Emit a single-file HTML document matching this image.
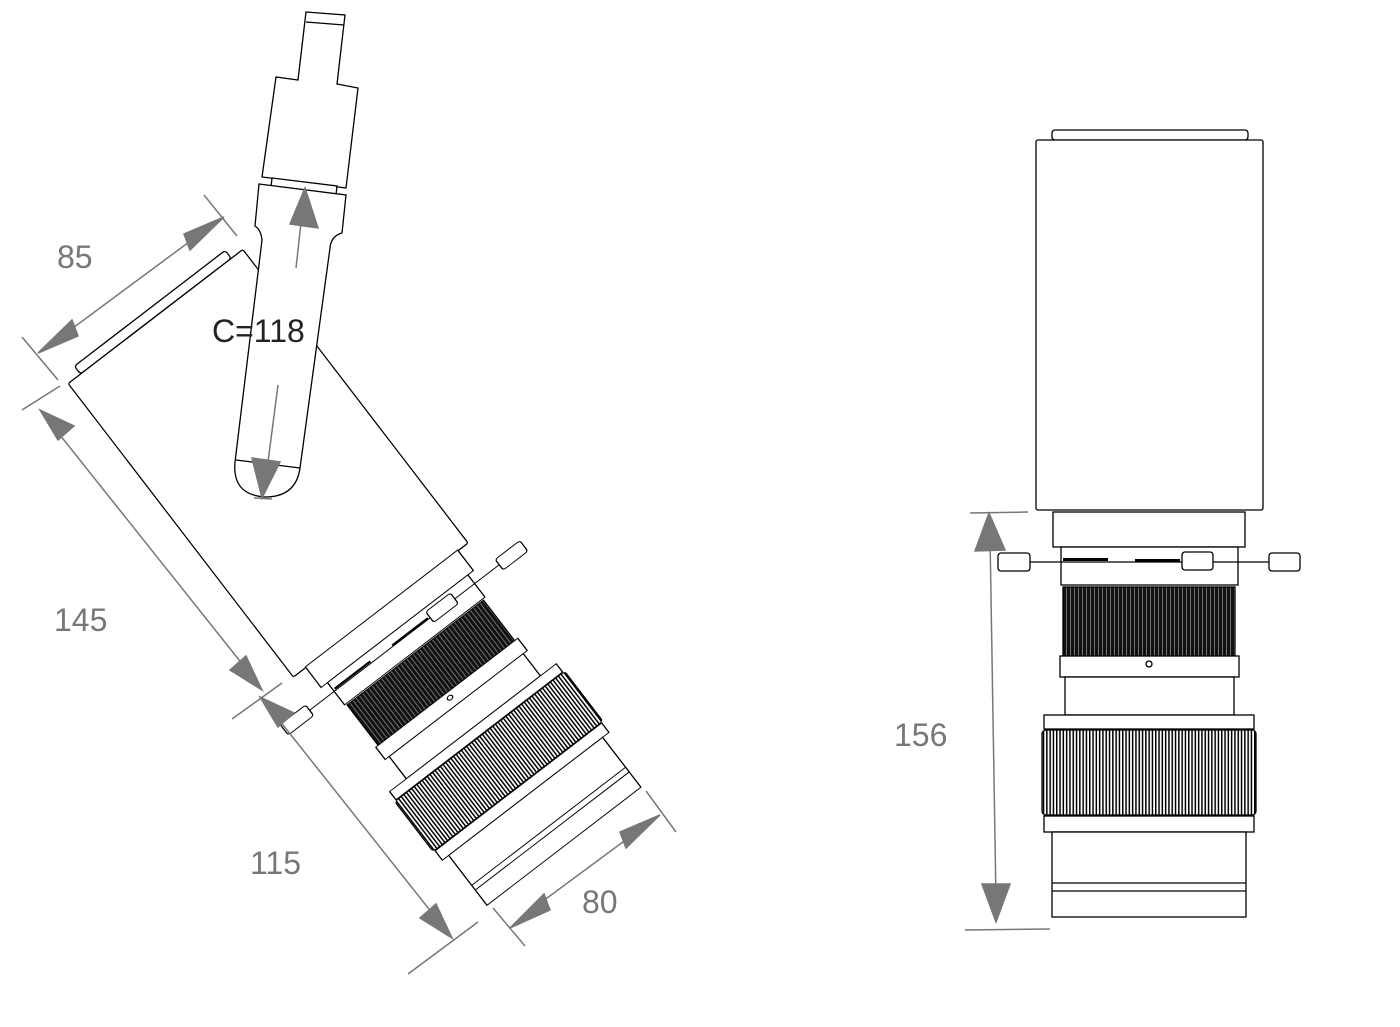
<!DOCTYPE html>
<html><head><meta charset="utf-8"><style>
html,body{margin:0;padding:0;background:#fff;}
svg{display:block;}
</style></head><body>
<svg width="1400" height="1027" viewBox="0 0 1400 1027" xmlns="http://www.w3.org/2000/svg">
<defs>
<pattern id="dk" width="4" height="10" patternUnits="userSpaceOnUse">
<rect width="4" height="10" fill="#111"/><rect x="2" width="0.8" height="10" fill="#888"/>
</pattern>
<pattern id="bk" width="6.6" height="10" patternUnits="userSpaceOnUse">
<rect width="6.6" height="10" fill="#fff"/><rect x="0" width="1.5" height="10" fill="#000"/><rect x="3.3" width="1.5" height="10" fill="#000"/>
</pattern>
<g id="body" fill="#fff" stroke="#000" stroke-width="1.3">
<rect x="1052" y="130" width="196" height="10" rx="3"/>
<rect x="1036" y="140" width="227" height="370" rx="2"/>
</g>
<g id="lower" stroke="#000" stroke-width="1.3">
<rect x="1053" y="512" width="192" height="35" fill="#fff"/>
<rect x="1061" y="547" width="177" height="38" fill="#fff"/>
<line x1="1030" y1="562" x2="1269" y2="562"/>
<rect x="1063" y="558" width="45" height="3" fill="#000" stroke="none"/>
<rect x="1135" y="559" width="45" height="3" fill="#000" stroke="none"/>
<rect x="998" y="553" width="32" height="18" rx="3" fill="#fff"/>
<rect x="1269" y="553" width="31" height="18" rx="3" fill="#fff"/>
<rect x="1182" y="552" width="31" height="18" rx="3" fill="#fff"/>
<rect x="1063" y="587" width="172" height="69" fill="url(#dk)"/>
<rect x="1060" y="656" width="179" height="21" fill="#fff"/>
<circle cx="1149" cy="664" r="3" fill="#fff"/>
<rect x="1065" y="677" width="169" height="38" fill="#fff"/>
<rect x="1044" y="715" width="210" height="14" fill="#fff"/>
<rect x="1042" y="730" width="214" height="85" rx="4" fill="url(#bk)"/>
<rect x="1044" y="816" width="210" height="16" fill="#fff"/>
<rect x="1052" y="832" width="194" height="85" fill="#fff"/>
<line x1="1052" y1="883" x2="1246" y2="883"/>
<line x1="1052" y1="891" x2="1246" y2="891"/>
</g>
</defs>

<use href="#body"/>
<use href="#lower"/>

<use href="#body" transform="translate(155.5,316.5) rotate(-37.5) scale(0.97,1) translate(-1149.5,-140)"/>
<use href="#lower" transform="translate(381,607) rotate(-37.5) scale(1,0.74) translate(-1149.5,-510)"/>

<g fill="#fff" stroke="#000" stroke-width="1.3">
<path d="M306,12 L345,15 L337,84 L358,88 L346,188 L262,177 L276,77 L298,80 Z"/>
<line x1="306" y1="22" x2="344" y2="25"/>
<path d="M272,178 L337,186 L336,195 L271,187 Z"/>
<path d="M259,184 L346,195 L342,233 Q331,236 330,248 L300,468 Q296,497 265,497 Q232,495 235,462 L262,240 Q261,230 255,226 Z"/>
<line x1="236" y1="460" x2="300" y2="468"/>
</g>

<g stroke="#777" stroke-width="1.5" fill="#777">
<line x1="22" y1="337" x2="58" y2="380"/>
<line x1="204" y1="195" x2="237" y2="236"/>
<line x1="50" y1="345" x2="212" y2="225"/>
<polygon points="38,353 72,320 78,336"/>
<polygon points="224,217 190,250 184,234"/>
<line x1="22" y1="410" x2="60" y2="386"/>
<line x1="232" y1="719" x2="282" y2="683"/>
<line x1="48" y1="420" x2="255" y2="680"/>
<polygon points="40,410 74,426 58,440"/>
<polygon points="262,690 246,656 230,670"/>
<line x1="268" y1="706" x2="444" y2="928"/>
<polygon points="260,697 294,713 278,727"/>
<polygon points="452,938 436,904 420,918"/>
<line x1="408" y1="974" x2="478" y2="922"/>
<line x1="493" y1="908" x2="525" y2="946"/>
<line x1="646" y1="791" x2="676" y2="832"/>
<line x1="520" y1="918" x2="650" y2="822"/>
<polygon points="510,928 544,894 550,910"/>
<polygon points="660,815 626,848 620,832"/>
<line x1="296" y1="268" x2="303" y2="205"/>
<polygon points="305,188 318,228 290,224"/>
<line x1="278" y1="385" x2="265" y2="485"/>
<polygon points="262,498 252,458 280,462"/>
<line x1="254" y1="498" x2="272" y2="499"/>
<line x1="970" y1="513" x2="1028" y2="512"/>
<line x1="965" y1="930" x2="1050" y2="929"/>
<line x1="990" y1="535" x2="996" y2="900"/>
<polygon points="989,513 1005,550 975,551"/>
<polygon points="996,922 982,884 1010,884"/>
</g>
<g font-family="Liberation Sans, sans-serif" font-size="32" fill="#777">
<text x="57" y="268">85</text>
<text x="54" y="631">145</text>
<text x="250" y="874">115</text>
<text x="582" y="913">80</text>
<text x="894" y="746">156</text>
</g>
<text x="212" y="342" font-family="Liberation Sans, sans-serif" font-size="32" fill="#222">C=118</text>
</svg>
</body></html>
